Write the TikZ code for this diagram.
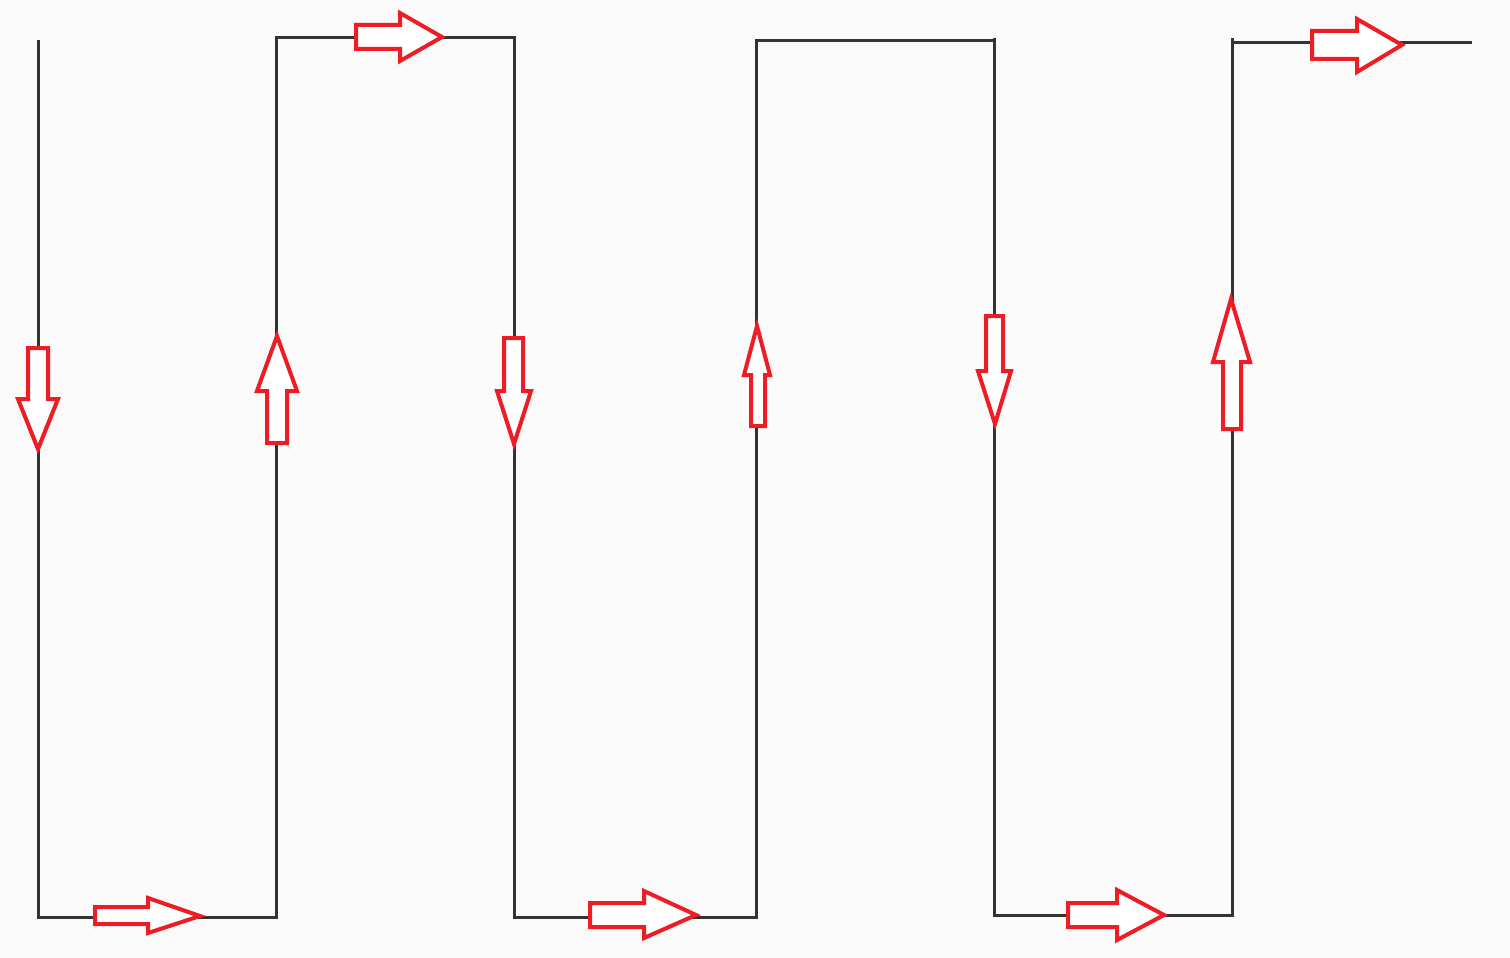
\documentclass[tikz,border=0pt]{standalone}
\usetikzlibrary{calc}
\definecolor{bg}{HTML}{FAFAFA}
\definecolor{wire}{HTML}{333333}
\definecolor{arr}{HTML}{EE1C25}
\begin{document}
\begin{tikzpicture}[x=1pt,y=-1pt,
  wireline/.style={draw=wire,line width=3pt,line join=miter},
  hollowarrow/.style={draw=arr,fill=white,line width=4pt,line join=miter}]
\fill[bg] (0,0) rectangle (1510,958);
\useasboundingbox (0,0) rectangle (1510,958);
% corner coordinates of the serpentine path
\coordinate (A) at (38,40);
\coordinate (B) at (38,917);
\coordinate (C) at (276,917);
\coordinate (D) at (276,38);
\coordinate (E) at (514,38);
\coordinate (F) at (514,917);
\coordinate (G) at (756,917);
\coordinate (H) at (756,41);
\coordinate (I) at (994,41);
\coordinate (Itop) at (994,38);
\coordinate (J) at (994,915);
\coordinate (K) at (1232,915);
\coordinate (L) at (1232,43);
\coordinate (Ltop) at (1232,38);
\coordinate (M) at (1472,43);
\draw[wireline] (A) -- (B) -- (C) -- (D) -- (E) -- (F) -- (G) -- (H) -- (I);
\draw[wireline] (Itop) -- (J) -- (K) -- (Ltop);
\draw[wireline] (L) -- (M);
% hollow arrows
% 1 down at x=38
\draw[hollowarrow] (28,348) -- (48,348) -- (48,399) -- (58,399) -- (38,449) -- (18,399) -- (28,399) -- cycle;
% 2 up at x=276
\draw[hollowarrow] (267,443) -- (287,443) -- (287,391) -- (297,391) -- (277,336) -- (257,391) -- (267,391) -- cycle;
% 3 right at top y=38
\draw[hollowarrow] (356,25) -- (400,25) -- (400,13) -- (442,37) -- (400,61) -- (400,49) -- (356,49) -- cycle;
% 4 right at bottom
\draw[hollowarrow] (95,907) -- (148,907) -- (148,898) -- (200,916) -- (148,933) -- (148,924) -- (95,924) -- cycle;
% 5 down at x=514
\draw[hollowarrow] (504,338) -- (523,338) -- (523,391) -- (531,391) -- (514,444) -- (497,391) -- (504,391) -- cycle;
% 6 up at x=756
\draw[hollowarrow] (751,426) -- (765,426) -- (765,375) -- (770,375) -- (757,326) -- (744,375) -- (751,375) -- cycle;
% 7 down at x=994
\draw[hollowarrow] (986,316) -- (1003,316) -- (1003,371) -- (1011,371) -- (995,424) -- (978,371) -- (986,371) -- cycle;
% 8 up at x=1232
\draw[hollowarrow] (1223,429) -- (1241,429) -- (1241,362) -- (1250,362) -- (1231,299) -- (1213,362) -- (1223,362) -- cycle;
% 9 right at top right
\draw[hollowarrow] (1312,31) -- (1357,31) -- (1357,19) -- (1402,45) -- (1357,72) -- (1357,59) -- (1312,59) -- cycle;
% 10 right at bottom
\draw[hollowarrow] (590,903) -- (644,903) -- (644,891) -- (696,915) -- (644,938) -- (644,927) -- (590,927) -- cycle;
% 11 right at bottom
\draw[hollowarrow] (1068,903) -- (1117,903) -- (1117,890) -- (1164,915) -- (1117,940) -- (1117,927) -- (1068,927) -- cycle;
\end{tikzpicture}
\end{document}
